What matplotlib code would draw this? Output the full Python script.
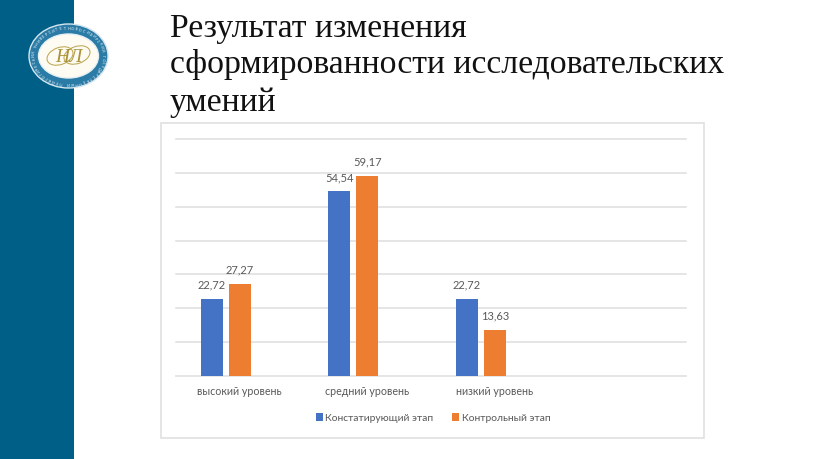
import math
import matplotlib
matplotlib.use('Agg')
import matplotlib.pyplot as plt
from matplotlib.patches import Ellipse, Rectangle

categories = ['высокий уровень', 'средний уровень', 'низкий уровень', '']
series_names = ['Констатирующий этап', 'Контрольный этап']
stage1 = [22.72, 54.54, 22.72]
stage2 = [27.27, 59.17, 13.63]
y_ticks = [0, 10, 20, 30, 40, 50, 60, 70]
title_lines = ['Результат изменения', 'сформированности исследовательских', 'умений']
ring_text = 'НОВОСИБИРСКИЙ ГОСУДАРСТВЕННЫЙ ПЕДАГОГИЧЕСКИЙ УНИВЕРСИТЕТ'

W, H = 816, 459
BLUE = '#4472c4'
ORANGE = '#ed7d31'
GREY = '#595959'

plt.rcParams['font.family'] = ['Lato', 'DejaVu Sans']


def px_axes(fig, x0, y0, x1, y1):
    # pixel box with y measured from the top of the picture
    return fig.add_axes([x0 / W, 1 - y1 / H, (x1 - x0) / W, (y1 - y0) / H])


fig = plt.figure(figsize=(W / 100, H / 100), dpi=100, facecolor='white')

# slide background in pixel coords
bg = fig.add_axes([0, 0, 1, 1])
bg.set_xlim(0, W)
bg.set_ylim(H, 0)
bg.axis('off')
bg.add_patch(Rectangle((0, 0), 74, H, color='#005f86', lw=0))
bg.add_patch(Rectangle((160.5, 123), 543, 315, fc='white', ec='#e0e0e0', lw=1.2))

# logo
bg.add_patch(Ellipse((68.5, 56), 79, 64, fc='#2a7ba6', ec='#d5e6ee', lw=1))
bg.add_patch(Ellipse((68.5, 56), 60, 44, fc='#fdfbf2', ec='#e6eff3', lw=1))
for i, ch in enumerate(ring_text):
    a = 2 * math.pi * i / len(ring_text) - math.pi / 2
    bg.text(68.5 + 34.5 * math.cos(a), 56 + 27.5 * math.sin(a), ch, fontsize=2.6, color='white',
            ha='center', va='center', rotation=-math.degrees(a) - 90)
bg.add_patch(Ellipse((60, 56), 27, 17, angle=-20, fc='none', ec='#b9a24a', lw=0.7))
bg.add_patch(Ellipse((77, 55), 27, 17, angle=-20, fc='none', ec='#b9a24a', lw=0.7))
bg.text(69, 57, 'НЛ', family='Liberation Serif', style='italic', fontsize=14,
        color='#a8923a', ha='center', va='center')

# title
for line, base in zip(title_lines, [37.5, 73.5, 110.5]):
    bg.text(170, base, line, family='Liberation Serif', fontsize=24.35,
            color='#111111', ha='left', va='baseline')

ax = px_axes(fig, 176, 139, 686, 376)
ax.patch.set_alpha(0)
pos = list(range(len(categories)))
bar_w = 22 / 127.5
off = 28 / 127.5
# the chart has an empty third series, so the pair sits left of each label
bars1 = ax.bar([p - off for p in pos][:3], stage1, bar_w, color=BLUE, label=series_names[0], zorder=3)
bars2 = ax.bar(pos[:3], stage2, bar_w, color=ORANGE, label=series_names[1], zorder=3)
for bars in (bars1, bars2):
    labels = [f'{b.get_height():.2f}'.replace('.', ',') for b in bars]
    ax.bar_label(bars, labels=labels, padding=6, fontsize=8, color=GREY)

ax.set_xlim(-0.5, 3.5)
ax.set_ylim(0, 70)
ax.set_yticks(y_ticks)
ax.set_yticklabels([])
ax.set_xticks(pos)
ax.set_xticklabels(categories, fontsize=7.7, color=GREY)
ax.tick_params(length=0)
ax.tick_params(axis='x', pad=7)
ax.grid(axis='y', color='#dedede', lw=1.1, zorder=0, clip_on=False)
for s in ax.spines.values():
    s.set_visible(False)

fig.legend(loc='center', bbox_to_anchor=(433 / W, 1 - 418 / H), ncol=2, frameon=False,
           fontsize=7.4, labelcolor=GREY, handlelength=0.7, handleheight=0.7,
           handletextpad=0.25, columnspacing=1.8)

fig.savefig('out.png', dpi=100)
